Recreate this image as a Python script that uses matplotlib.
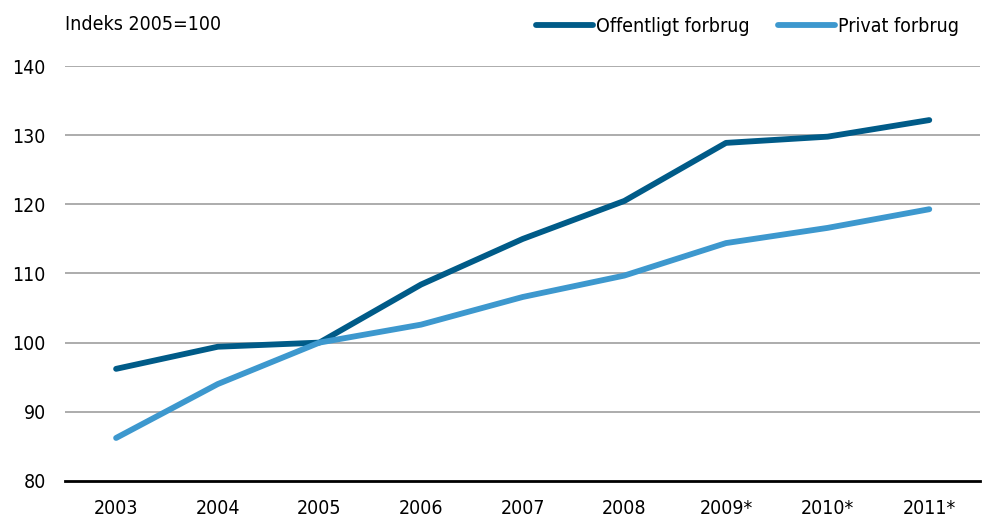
import matplotlib
matplotlib.use("Agg")
import matplotlib.pyplot as plt
from matplotlib import font_manager

years = ["2003", "2004", "2005", "2006", "2007", "2008", "2009*", "2010*", "2011*"]
offentligt = [96.2, 99.4, 100.0, 108.4, 115.0, 120.5, 128.9, 129.8, 132.2]
privat = [86.2, 94.0, 100.0, 102.6, 106.6, 109.7, 114.4, 116.6, 119.3]
yticks = [80, 90, 100, 110, 120, 130, 140]

names = {f.name for f in font_manager.fontManager.ttflist}
fam = "Liberation Sans Narrow" if "Liberation Sans Narrow" in names else "DejaVu Sans"
plt.rcParams['font.family'] = [fam, 'DejaVu Sans']
plt.rcParams['font.stretch'] = 'condensed'

fig = plt.figure(figsize=(9.89, 5.17), dpi=100)
ax = fig.add_axes([0.066, 0.070, 0.925, 0.802])

x = list(range(len(years)))
ax.plot(x, offentligt, color="#005B88", lw=4.2, solid_capstyle="round", label="Offentligt forbrug", zorder=3)
ax.plot(x, privat, color="#3D98CE", lw=4.2, solid_capstyle="round", label="Privat forbrug", zorder=3)

ax.set_xlim(-0.5, len(years) - 0.5)
ax.set_ylim(80, 140)
ax.set_yticks(yticks)
ax.set_yticklabels([str(v) for v in yticks], fontsize=14)
ax.set_xticks(x)
ax.set_xticklabels(years, fontsize=14)
ax.tick_params(length=0)
ax.tick_params(axis='x', pad=13)
ax.tick_params(axis='y', pad=14)

for v in yticks[1:]:
    ax.axhline(v, color="#A6A6A6", lw=1.3, zorder=1)
for s in ["top", "right", "left"]:
    ax.spines[s].set_visible(False)
ax.spines["bottom"].set_color("black")
ax.spines["bottom"].set_linewidth(2)

fig.text(0.066, 0.953, "Indeks 2005=100", fontsize=14, ha="left", va="center")

leg = ax.legend(loc="lower right", bbox_to_anchor=(0.985, 1.055), ncol=2, frameon=False,
                fontsize=14, handlelength=2.9, handletextpad=0.15, columnspacing=1.5,
                borderaxespad=0)

fig.savefig("out.png", dpi=100)
